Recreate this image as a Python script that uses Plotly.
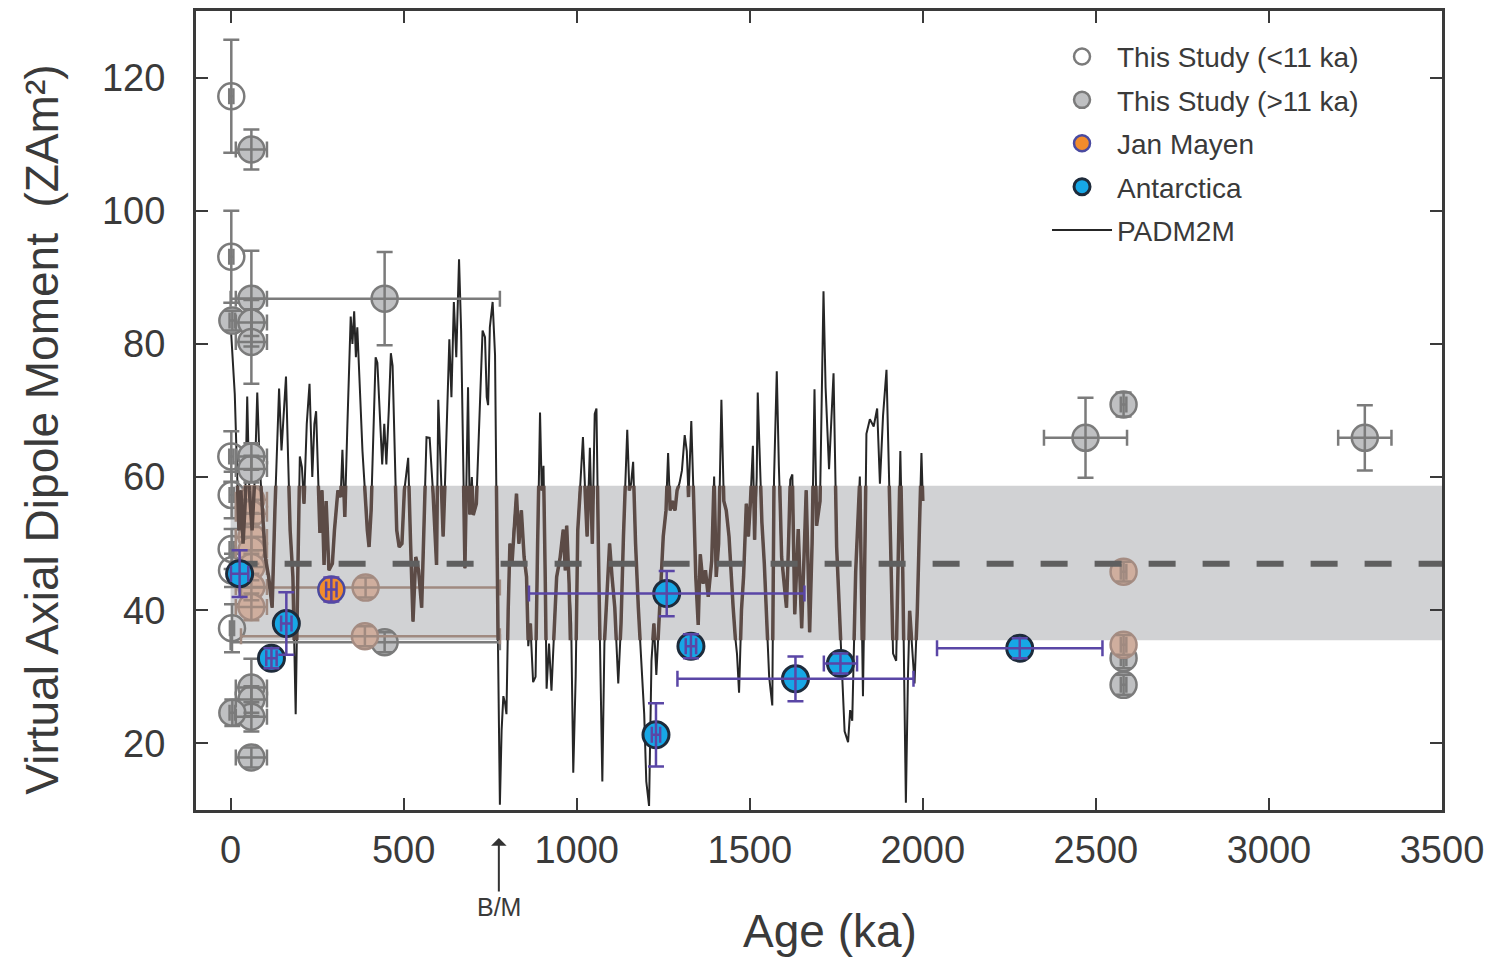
import plotly.graph_objects as go

# ---------------- data ----------------
# PADM2M axial dipole moment model (age ka, VADM ZAm^2)
PADM2M_AGE = [0, 4, 8, 12, 18, 24, 30, 36, 42, 48, 54, 62, 70, 77, 84, 92, 100, 110, 120, 128,
              135, 140, 147, 153, 160, 166, 172, 180, 188, 194, 200, 206, 212, 220, 228, 236, 242, 247, 251, 258,
              264, 270, 276, 284, 294, 300, 310, 318, 323, 330, 337, 343, 347, 352, 357, 362, 366, 372, 381, 388,
              395, 400, 406, 413, 419, 424, 430, 438, 444, 450, 457, 463, 468, 474, 480, 487, 495, 502, 513, 520,
              527, 535, 543, 552, 560, 566, 575, 585, 595, 600, 608, 614, 620, 624, 632, 638, 645, 652, 660, 666,
              672, 677, 686, 691, 697, 701, 710, 720, 728, 735, 740, 744, 749, 757, 764, 770, 778, 783, 788, 793,
              797, 802, 807, 813, 818, 826, 833, 840, 848, 855, 860, 866, 874, 881, 887, 894, 899, 904, 909, 913,
              920, 927, 934, 942, 952, 961, 967, 971, 978, 984, 990, 997, 1003, 1010, 1018, 1025, 1030, 1038, 1045, 1052,
              1057, 1063, 1068, 1074, 1080, 1086, 1095, 1102, 1110, 1120, 1128, 1135, 1146, 1152, 1157, 1163, 1170, 1178, 1188, 1195,
              1201, 1209, 1216, 1223, 1230, 1240, 1250, 1258, 1264, 1270, 1276, 1284, 1290, 1297, 1304, 1312, 1318, 1323, 1331, 1338,
              1344, 1351, 1357, 1365, 1372, 1380, 1390, 1397, 1403, 1410, 1418, 1425, 1432, 1440, 1446, 1452, 1458, 1463, 1469, 1476,
              1482, 1490, 1496, 1502, 1509, 1514, 1520, 1523, 1528, 1535, 1542, 1549, 1556, 1565, 1570, 1578, 1584, 1592, 1600, 1606,
              1612, 1617, 1623, 1630, 1640, 1650, 1663, 1673, 1680, 1687, 1693, 1703, 1713, 1719, 1729, 1736, 1742, 1751, 1765, 1774,
              1784, 1790, 1796, 1806, 1818, 1827, 1832, 1837, 1847, 1858, 1868, 1876, 1885, 1895, 1904, 1914, 1923, 1935, 1942, 1951,
              1957, 1962, 1976, 1984, 1990, 1996, 2000]
PADM2M_VADM = [83, 80, 75.8, 72.5, 62, 52, 58, 50, 56, 72.1, 58, 52, 60, 72.7, 62, 55, 48, 45, 40.4, 55,
               68, 73.3, 64, 69, 75.1, 63, 52, 45, 24.4, 45, 63.1, 61.5, 56, 68, 74.0, 60, 68, 69.9, 62.8, 51.6,
               58, 46.8, 56.4, 46, 47, 52, 58, 57, 64.1, 54, 67.1, 78, 84.1, 80, 84.9, 78, 82.5, 75.1, 63.9, 58,
               52, 49.5, 55, 68, 78.0, 77.2, 69.7, 61.9, 68, 61.9, 70, 78.6, 76.7, 63, 52, 49.5, 50, 58, 62.9, 50,
               38.3, 48, 46, 40.4, 55, 66.0, 65.9, 57.5, 46.8, 71.6, 60, 51.1, 60, 66.3, 80.7, 72, 86.3, 78, 92.7, 82,
               60, 46.3, 73.5, 54.4, 60, 54.3, 56, 70.3, 82.0, 81, 72, 70.8, 82.5, 86.3, 78.3, 45.8, 10.8, 22, 27.1, 26,
               24.4, 40, 50.0, 47, 52, 57.5, 50, 55, 48, 45, 34.6, 38, 29.2, 30, 50, 69.7, 58, 61.7, 45, 28.2,
               35, 27.9, 36, 45, 47.9, 52.1, 46, 52.7, 44, 38, 15.6, 30, 52, 58, 66.0, 57, 51.1, 64.4, 50, 69.5,
               70.3, 48, 35.1, 14.3, 35, 40.4, 50.0, 45, 40.4, 29.0, 38, 51.1, 67.1, 58, 59, 62.3, 50, 40.4, 30, 24.4,
               14.3, 10.6, 32.4, 38, 30.3, 40, 51.1, 55, 63.6, 55, 56.4, 55, 58, 59.1, 61, 66.3, 63.9, 57, 68.4, 56.4,
               45, 37.8, 48.4, 44, 46, 42, 47.4, 60.1, 45, 50, 71.6, 56.4, 55, 51.1, 45, 40.4, 36, 33.5, 27.6, 40,
               45, 56, 51.1, 56.4, 64.7, 50.6, 60, 72.7, 64.4, 53.2, 47, 37.8, 30, 25.7, 59.6, 75.9, 61.7, 48, 43.6, 40.4,
               50, 59.6, 60.4, 39.4, 52.2, 37.3, 58.0, 36.7, 50, 73.2, 52.7, 56.4, 87.9, 73.5, 61.2, 68, 75.6, 49.5, 32.4, 21.8,
               20.2, 25, 23.4, 45.8, 60.1, 27.1, 45, 66.5, 68.7, 67.6, 70.3, 59, 69.2, 76.1, 56.4, 33.5, 32.4, 63.9, 45.8, 11.1,
               30, 39.9, 29.0, 39.9, 52, 63.6, 56.4]

# PADM2M mean and 1-sigma band
PADM2M_MEAN = 47.0
BAND_LOW = 35.5
BAND_HIGH = 58.7
BAND_AGES = [0, 3500]

# This study, < 11 ka (open circles)
OPEN_AGE = [2, 2, 2, 3, 3, 4, 4]
OPEN_VADM = [117.2, 93.1, 63.1, 57.3, 49.2, 46.0, 37.3]
OPEN_YERR = [8.5, 6.9, 3.8, 3.5, 3.0, 2.5, 3.6]
OPEN_XERR = [6, 6, 6, 6, 6, 6, 6]

# This study, > 11 ka (grey filled circles)
GREY_AGE = [60, 60, 445, 5, 60, 60, 60, 60, 60, 60, 60, 5, 60, 2470, 2580, 3277, 2580, 2580, 445]
GREY_VADM = [109.2, 86.8, 86.8, 83.5, 83.2, 80.3, 63.1, 61.2, 28.4, 26.6, 24.0, 24.6, 17.9, 65.9, 70.9, 65.9, 32.8, 28.8, 35.2]
GREY_YERR = [3.0, 7.2, 7.0, 1.5, 2.0, 6.3, 2.0, 2.0, 4.3, 2.0, 2.2, 2.0, 1.5, 6.0, 1.8, 4.9, 1.5, 1.5, 1.5]
GREY_XERR_PLUS = [45, 45, 333, 8, 45, 45, 45, 45, 45, 45, 45, 8, 45, 120, 8, 77, 8, 8, 333]
GREY_XERR_MINUS = [45, 45, 445, 8, 45, 45, 45, 45, 45, 45, 45, 8, 45, 120, 8, 77, 8, 8, 445]

# This study, > 11 ka, lying inside the PADM2M band (tinted)
TINT_AGE = [60, 60, 60, 60, 60, 60, 60, 390, 388, 2580, 2580]
TINT_VADM = [56.6, 54.5, 51.0, 49.0, 46.5, 43.5, 40.5, 43.4, 36.1, 45.8, 34.8]
TINT_YERR = [2.0, 2.0, 2.0, 2.0, 2.0, 2.0, 2.0, 1.5, 1.5, 1.5, 1.5]
TINT_XERR_PLUS = [45, 45, 45, 45, 45, 45, 45, 388, 390, 8, 8]
TINT_XERR_MINUS = [45, 45, 45, 45, 45, 45, 45, 360, 358, 8, 8]

# Jan Mayen
JM_AGE = [291]
JM_VADM = [43.1]
JM_YERR = [1.8]
JM_XERR = [15]

# Antarctica
ANT_AGE = [26, 161, 118, 1229, 1260, 1330, 1632, 1762, 2280]
ANT_VADM = [45.5, 38.0, 32.8, 21.3, 42.5, 34.6, 29.7, 32.0, 34.3]
ANT_YERR = [3.5, 4.7, 1.5, 4.75, 3.4, 1.8, 3.35, 1.5, 1.5]
ANT_XERR = [25, 15, 15, 12, 398, 15, 341, 48, 239]

# Brunhes/Matuyama boundary
BM_AGE = 775

X_RANGE = [-100, 3500]
Y_RANGE = [10, 130]
X_TICKS = [0, 500, 1000, 1500, 2000, 2500, 3000, 3500]
Y_TICKS = [20, 40, 60, 80, 100, 120]

X_TITLE = "Age (ka)"
Y_TITLE = "Virtual Axial Dipole Moment  (ZAm²)"

# ---------------- styles ----------------
FONT = "Liberation Sans, Arial, sans-serif"
TXT = "#3a3a3a"
GREY_LINE = "#7b7b7b"
PURPLE = "#5a46a6"
BROWN_LINE = "#a08a80"

fig = go.Figure()


def add_points(age, vadm, xp, xm, ye, fill, edge, lw, size, ecol, name, show, rank, xa, ya):
    fig.add_trace(go.Scatter(
        x=age, y=vadm, mode="markers", name=name, showlegend=show,
        legendrank=rank, legendgroup=name,
        marker=dict(size=size, color=fill, line=dict(color=edge, width=lw)),
        xaxis=xa, yaxis=ya, hoverinfo="x+y"))
    fig.add_trace(go.Scatter(
        x=age, y=vadm, mode="markers", showlegend=False, hoverinfo="skip",
        marker=dict(size=2, color="rgba(0,0,0,0)"),
        error_x=dict(type="data", array=xp, arrayminus=xm, color=ecol, thickness=2.5, width=8),
        error_y=dict(type="data", array=ye, color=ecol, thickness=2.5, width=8),
        xaxis=xa, yaxis=ya))


# PADM2M black line (main subplot)
fig.add_trace(go.Scatter(
    x=PADM2M_AGE, y=PADM2M_VADM, mode="lines", name="PADM2M",
    line=dict(color="#262626", width=2), legendrank=5, legendgroup="PADM2M",
    xaxis="x", yaxis="y"))

add_points(OPEN_AGE, OPEN_VADM, OPEN_XERR, OPEN_XERR, OPEN_YERR,
           "rgba(255,255,255,0)", GREY_LINE, 2.5, 26, GREY_LINE,
           "This Study (<11 ka)", True, 1, "x", "y")
add_points(GREY_AGE, GREY_VADM, GREY_XERR_PLUS, GREY_XERR_MINUS, GREY_YERR,
           "#bfc0c2", GREY_LINE, 2.5, 26, GREY_LINE,
           "This Study (>11 ka)", True, 2, "x", "y")
add_points(TINT_AGE, TINT_VADM, TINT_XERR_PLUS, TINT_XERR_MINUS, TINT_YERR,
           "#cfae9e", "#a58c82", 2.5, 26, BROWN_LINE,
           "tint", False, 9, "x", "y")

# PADM2M brown line, only visible inside the band (subplot 2 clipped to band)
fig.add_trace(go.Scatter(
    x=PADM2M_AGE, y=PADM2M_VADM, mode="lines", showlegend=False, hoverinfo="skip",
    line=dict(color="#5c4b46", width=3.5), xaxis="x2", yaxis="y2"))

# mean dashed line (top subplot)
fig.add_trace(go.Scatter(
    x=BAND_AGES, y=[PADM2M_MEAN, PADM2M_MEAN], mode="lines", showlegend=False, hoverinfo="skip",
    line=dict(color="#5f5f5f", width=6, dash="27px,27px"), xaxis="x3", yaxis="y3"))

add_points(JM_AGE, JM_VADM, JM_XERR, JM_XERR, JM_YERR,
           "#f28c2c", "#4a4aa0", 2.5, 26, PURPLE,
           "Jan Mayen", True, 3, "x3", "y3")
add_points(ANT_AGE, ANT_VADM, ANT_XERR, ANT_XERR, ANT_YERR,
           "#17a7e6", "#1e2b3b", 3, 26, PURPLE,
           "Antarctica", True, 4, "x3", "y3")

# band shape
fig.add_shape(type="rect", xref="x", yref="y", x0=BAND_AGES[0], x1=BAND_AGES[1],
              y0=BAND_LOW, y1=BAND_HIGH, fillcolor="#d1d2d4", line=dict(width=0), layer="below")

band_dom = [(BAND_LOW - Y_RANGE[0]) / (Y_RANGE[1] - Y_RANGE[0]),
            (BAND_HIGH - Y_RANGE[0]) / (Y_RANGE[1] - Y_RANGE[0])]

axis_common = dict(
    showline=True, linecolor="#3a3a3a", linewidth=3, mirror="allticks",
    ticks="inside", ticklen=12, tickwidth=2, tickcolor="#3a3a3a",
    showgrid=False, zeroline=False,
    tickfont=dict(family=FONT, size=38, color=TXT))

fig.update_layout(
    width=1488, height=950,
    margin=dict(l=188, r=54, t=0, b=148),
    paper_bgcolor="white", plot_bgcolor="rgba(0,0,0,0)",
    font=dict(family=FONT, color=TXT),
    xaxis=dict(range=X_RANGE, tickvals=X_TICKS, ticklabelstandoff=4, **axis_common),
    yaxis=dict(range=Y_RANGE, tickvals=Y_TICKS, ticklabelstandoff=20, **axis_common),
    xaxis2=dict(range=X_RANGE, domain=[0, 1], anchor="y2", visible=False),
    yaxis2=dict(range=[BAND_LOW, BAND_HIGH], domain=band_dom, anchor="x2", visible=False),
    xaxis3=dict(range=X_RANGE, domain=[0, 1], anchor="y3", visible=False),
    yaxis3=dict(range=Y_RANGE, domain=[0, 1], anchor="x3", visible=False),
    legend=dict(x=0.683, y=0.974, xanchor="left", yanchor="top",
                font=dict(family=FONT, size=28, color=TXT),
                bgcolor="rgba(0,0,0,0)", itemwidth=60, tracegroupgap=4,
                traceorder="grouped"),
    showlegend=True,
)

# axis titles
fig.add_annotation(x=0.509, y=-0.152, xref="paper", yref="paper", text=X_TITLE,
                   showarrow=False, xanchor="center", yanchor="middle",
                   font=dict(family=FONT, size=46, color=TXT))
fig.add_annotation(x=-0.1236, y=0.476, xref="paper", yref="paper", text=Y_TITLE,
                   showarrow=False, xanchor="center", yanchor="middle", textangle=-90,
                   font=dict(family=FONT, size=46, color=TXT))

fig.add_annotation(x=BM_AGE, xref="x", y=-0.035, yref="paper", text="B/M",
                   showarrow=True, ax=0, ay=69, arrowhead=1, arrowsize=1.3, arrowwidth=2,
                   arrowcolor="#333333", font=dict(family=FONT, size=25, color=TXT))

fig.write_html("out.html")
